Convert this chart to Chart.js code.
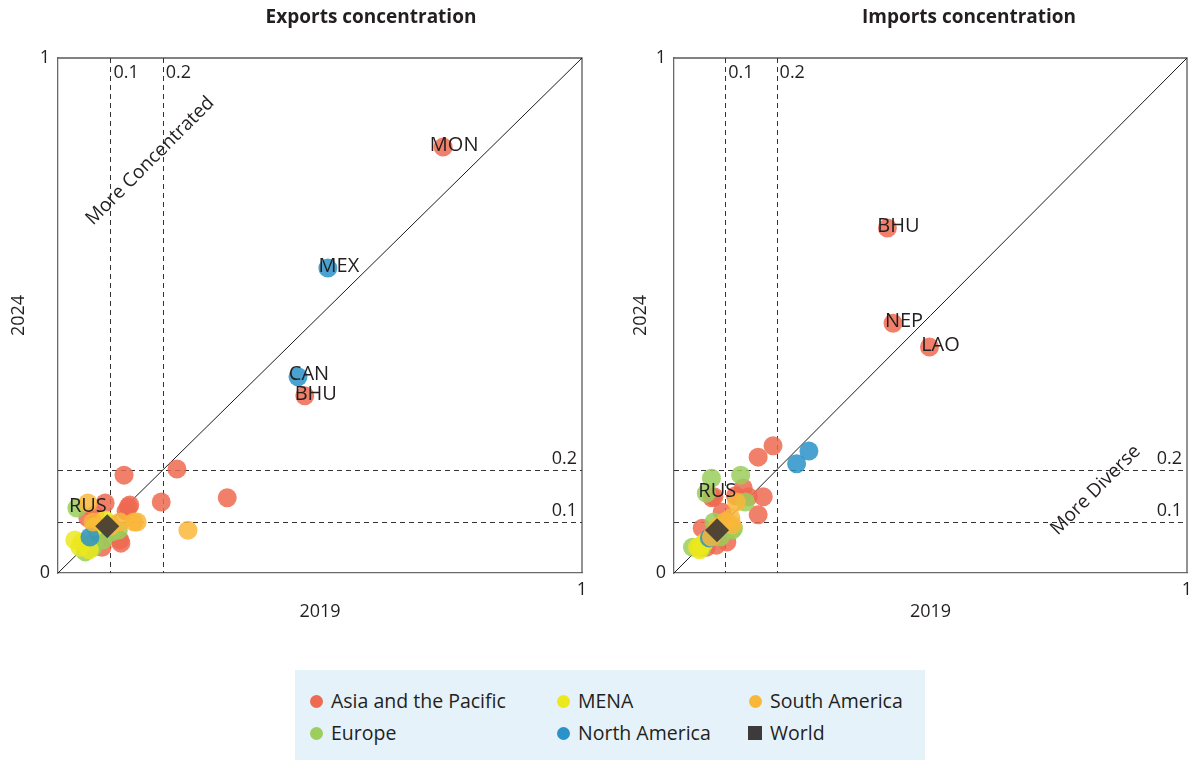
<!DOCTYPE html>
<html>
<head>
<meta charset="utf-8">
<script src="https://cdn.jsdelivr.net/npm/chart.js@4.4.1/dist/chart.umd.min.js"></script>
<style>
  html, body { margin: 0; padding: 0; background: #fff; }
  body { width: 1199px; height: 760px; position: relative; overflow: hidden; font-family: "Open Sans", sans-serif; color: #231f20; }
  .panel { position: absolute; top: 0; }
  #legend { position: absolute; left: 295px; top: 670px; width: 630px; height: 90px; background: #e6f2f9; }
  .item { position: absolute; font-size: 19.5px; line-height: 24px; white-space: nowrap; }
  .dot { position: absolute; width: 13px; height: 13px; border-radius: 50%; }
  .sq { position: absolute; width: 14px; height: 14px; background: #3d3a3c; }
</style>
</head>
<body>
<div class="panel" style="left:0;width:600px;height:640px"><canvas id="exports"></canvas></div>
<div class="panel" style="left:616px;width:583px;height:640px"><canvas id="imports"></canvas></div>
<div id="legend"></div>

<script>
// Concentration index, 2019 (x) vs 2024 (y). Third entry = country code label.
const exportsAsia = [[0.735,0.827,'MON'],[0.471,0.344,'BHU'],[0.126,0.190],[0.227,0.202],[0.197,0.138],[0.323,0.146],
  [0.134,0.128],[0.090,0.136],[0.120,0.058],[0.084,0.050],[0.071,0.089],[0.130,0.120],[0.075,0.065],
  [0.137,0.132],[0.057,0.107],[0.071,0.113],[0.118,0.064]];
const exportsEurope = [[0.036,0.126,'RUS'],[0.052,0.041],[0.115,0.083],[0.100,0.095],[0.070,0.060],
  [0.067,0.050],[0.086,0.064],[0.103,0.080]];
const exportsMena = [[0.046,0.060],[0.042,0.050],[0.090,0.103],[0.060,0.045],[0.032,0.064],[0.070,0.090]];
const exportsNorthAmerica = [[0.515,0.592,'MEX'],[0.458,0.381,'CAN'],[0.061,0.070]];
const exportsSouthAmerica = [[0.057,0.136],[0.248,0.083],[0.145,0.099],[0.118,0.099],[0.100,0.090],
  [0.067,0.099],[0.151,0.099]];
const exportsWorld = [[0.094,0.091]];

const importsAsia = [[0.416,0.670,'BHU'],[0.427,0.485,'NEP'],[0.498,0.439,'LAO'],[0.193,0.247],[0.164,0.225],
  [0.078,0.148],[0.135,0.165],[0.145,0.148],[0.174,0.148],[0.164,0.113],[0.094,0.118],[0.103,0.060],
  [0.055,0.087],[0.063,0.050],[0.120,0.150],[0.082,0.054],[0.074,0.146]];
const importsEurope = [[0.063,0.155,'RUS'],[0.073,0.184],[0.130,0.190],[0.139,0.138],[0.116,0.087],[0.078,0.099],
  [0.055,0.049],[0.090,0.070],[0.036,0.050],[0.113,0.083]];
const importsMena = [[0.053,0.054],[0.046,0.050],[0.050,0.045],[0.060,0.060]];
const importsNorthAmerica = [[0.263,0.237],[0.239,0.212],[0.069,0.068]];
const importsSouthAmerica = [[0.122,0.138],[0.111,0.107],[0.113,0.093],[0.100,0.100],[0.073,0.070],[0.085,0.090]];
const importsWorld = [[0.084,0.083]];

const groups = ['Asia and the Pacific','Europe','MENA','North America','South America','World'];
const thresholds = [0.1, 0.2];

const colors = {
  'Asia and the Pacific': 'rgba(238,106,80,0.85)',
  'Europe': 'rgba(155,206,92,0.85)',
  'MENA': 'rgba(236,232,30,0.85)',
  'North America': 'rgba(42,146,200,0.85)',
  'South America': 'rgba(249,183,58,0.85)',
  'World': 'rgba(52,48,50,0.85)'
};
const solid = {
  'Asia and the Pacific': '#ee6a50', 'Europe': '#9bce5c', 'MENA': '#ece81e',
  'North America': '#2a92c8', 'South America': '#f9b73a', 'World': '#3d3a3c'
};

const toPoints = arr => arr.map(p => ({ x: p[0], y: p[1], code: p[2] || null }));

function makeDatasets(series) {
  return series.map((arr, i) => {
    const g = groups[i];
    const world = g === 'World';
    return {
      label: g,
      data: toPoints(arr),
      // later groups are painted over earlier ones; World ends on top
      order: groups.length - 1 - i,
      backgroundColor: colors[g],
      borderWidth: 0,
      pointStyle: world ? 'rectRot' : 'circle',
      pointRadius: world ? 12 : 9.5,
      pointHoverRadius: world ? 12 : 9.5
    };
  });
}

const FONT = '"Open Sans", sans-serif';

// Frame, reference lines, threshold labels, titles and country codes
const decor = {
  id: 'decor',
  beforeDatasetsDraw(chart, args, o) {
    const { ctx, chartArea: a, scales: { x, y } } = chart;
    ctx.save();
    ctx.strokeStyle = '#5a5a5a';
    ctx.lineWidth = 1.3;
    ctx.beginPath();
    ctx.moveTo(a.left, a.top); ctx.lineTo(a.right, a.top); ctx.lineTo(a.right, a.bottom);
    ctx.stroke();

    ctx.strokeStyle = '#333';
    ctx.lineWidth = 1;
    ctx.setLineDash([5, 4]);
    thresholds.forEach(t => {
      const px = Math.round(x.getPixelForValue(t)) + 0.5;
      const py = Math.round(y.getPixelForValue(t)) + 0.5;
      ctx.beginPath(); ctx.moveTo(px, a.top); ctx.lineTo(px, a.bottom); ctx.stroke();
      ctx.beginPath(); ctx.moveTo(a.left, py); ctx.lineTo(a.right, py); ctx.stroke();
    });
    ctx.setLineDash([]);

    ctx.strokeStyle = '#1a1a1a';
    ctx.beginPath();
    ctx.moveTo(x.getPixelForValue(0), y.getPixelForValue(0));
    ctx.lineTo(x.getPixelForValue(1), y.getPixelForValue(1));
    ctx.stroke();

    ctx.fillStyle = '#231f20';
    ctx.font = '18px ' + FONT;
    ctx.textBaseline = 'middle';
    thresholds.forEach(t => {
      ctx.textAlign = 'left';
      ctx.fillText(String(t), x.getPixelForValue(t) + 3, a.top + 15);
      ctx.textAlign = 'right';
      ctx.fillText(String(t), a.right - 5, y.getPixelForValue(t) - 11);
    });

    // direction note
    ctx.save();
    ctx.translate(x.getPixelForValue(o.note[1]), y.getPixelForValue(o.note[2]));
    ctx.rotate(-Math.PI / 4);
    ctx.textAlign = 'center';
    ctx.font = '19px ' + FONT;
    ctx.fillText(o.note[0], 0, 0);
    ctx.restore();

    // title
    ctx.font = 'bold 19px "Liberation Sans Narrow", "Open Sans", sans-serif';
    ctx.textAlign = 'center';
    ctx.fillText(o.title, o.titleX, 18);
    ctx.restore();
  },
  afterDatasetsDraw(chart) {
    const { ctx } = chart;
    ctx.save();
    ctx.fillStyle = '#231f20';
    ctx.font = '20px ' + FONT;
    ctx.textAlign = 'center';
    ctx.textBaseline = 'middle';
    chart.data.datasets.forEach((ds, i) => {
      const meta = chart.getDatasetMeta(i);
      ds.data.forEach((p, j) => {
        if (!p.code) return;
        const el = meta.data[j];
        ctx.fillText(p.code, el.x + 11, el.y - 2);
      });
    });
    ctx.restore();
  }
};

function build(id, series, cfg) {
  return new Chart(document.getElementById(id), {
    type: 'scatter',
    data: { datasets: makeDatasets(series) },
    plugins: [decor],
    options: {
      responsive: true,
      maintainAspectRatio: false,
      animation: false,
      events: [],
      layout: { padding: { top: 58, right: cfg.padRight, left: 0, bottom: 13 } },
      plugins: {
        legend: { display: false },
        tooltip: { enabled: false },
        decor: { title: cfg.title, titleX: cfg.titleX, note: cfg.note }
      },
      scales: {
        x: {
          type: 'linear', min: 0, max: 1,
          afterFit(s) { s.height = 54; },
          grid: { display: false, drawTicks: false },
          border: { display: true, color: '#6a6a6a', width: 1.3 },
          ticks: { stepSize: 1, padding: 6, color: '#231f20', font: { family: FONT, size: 18 },
                   callback: v => (v === 1 ? '1' : '') },
          title: { display: true, text: '2019', color: '#231f20', font: { family: FONT, size: 18 }, padding: { top: 4, bottom: 4 } }
        },
        y: {
          type: 'linear', min: 0, max: 1,
          afterFit(s) { s.width = 58; },
          grid: { display: false, drawTicks: false },
          border: { display: true, color: '#6a6a6a', width: 1.3 },
          ticks: { stepSize: 1, padding: 8, color: '#231f20', font: { family: FONT, size: 18 } },
          title: { display: true, text: '2024', color: '#231f20', font: { family: FONT, size: 18 }, padding: { top: cfg.yTitlePad, bottom: 0 } }
        }
      }
    }
  });
}

build('exports',
  [exportsAsia, exportsEurope, exportsMena, exportsNorthAmerica, exportsSouthAmerica, exportsWorld],
  { title: 'Exports concentration', titleX: 371, padRight: 18, yTitlePad: 8, note: ['More Concentrated', 0.176, 0.80] });
build('imports',
  [importsAsia, importsEurope, importsMena, importsNorthAmerica, importsSouthAmerica, importsWorld],
  { title: 'Imports concentration', titleX: 353, padRight: 2, yTitlePad: 14, note: ['More Diverse', 0.822, 0.161] });

// Legend
const legendLayout = [
  ['Asia and the Pacific', 0, 0], ['MENA', 1, 0], ['South America', 2, 0],
  ['Europe', 0, 1], ['North America', 1, 1], ['World', 2, 1]
];
const colX = [21, 268, 460];
const rowY = [31, 63];
const legend = document.getElementById('legend');
legendLayout.forEach(([name, c, r]) => {
  const mark = document.createElement('div');
  if (name === 'World') {
    mark.className = 'sq';
    mark.style.left = (colX[c] - 7) + 'px';
    mark.style.top = (rowY[r] - 7) + 'px';
  } else {
    mark.className = 'dot';
    mark.style.left = (colX[c] - 6) + 'px';
    mark.style.top = (rowY[r] - 6) + 'px';
    mark.style.background = solid[name];
  }
  legend.appendChild(mark);
  const t = document.createElement('div');
  t.className = 'item';
  t.textContent = name;
  t.style.left = (colX[c] + 15) + 'px';
  t.style.top = (rowY[r] - 12) + 'px';
  legend.appendChild(t);
});
</script>
</body>
</html>
